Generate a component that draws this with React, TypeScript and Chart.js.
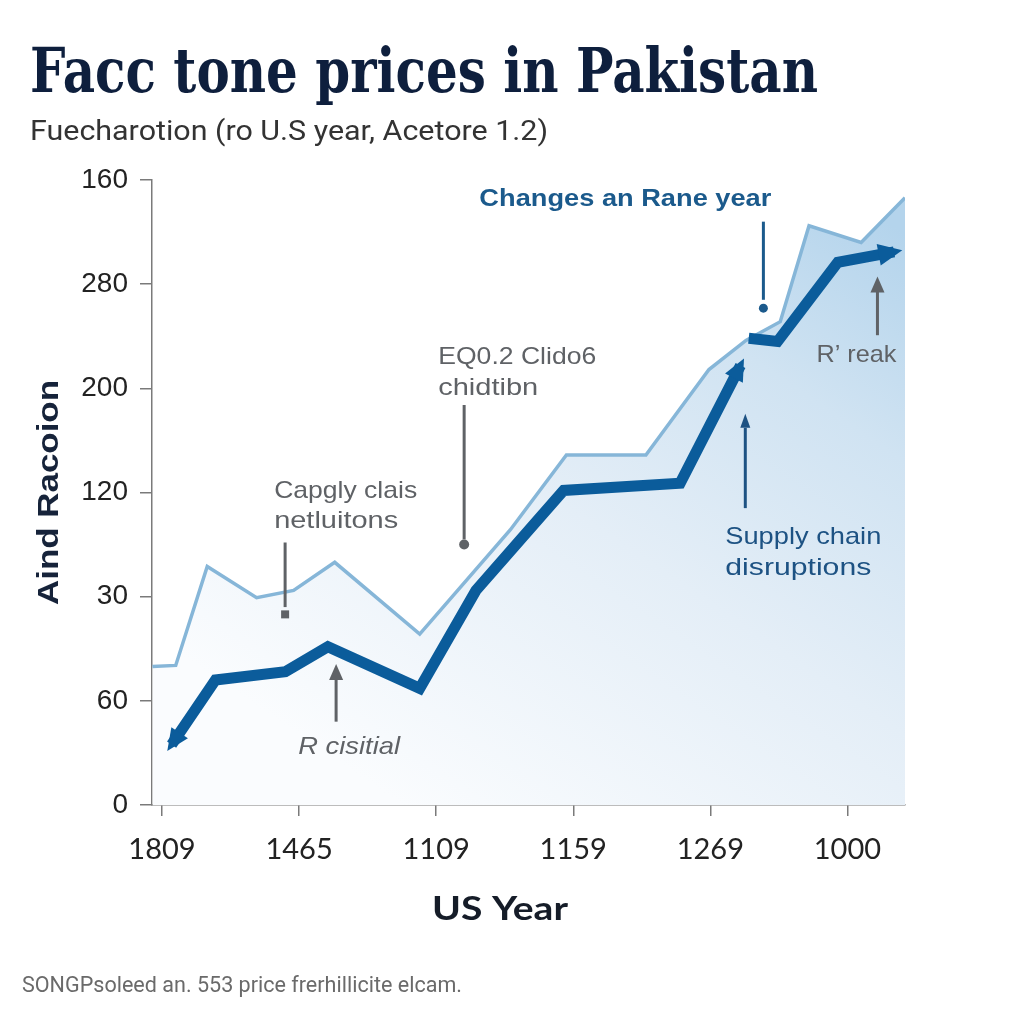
import React, { useEffect, useRef } from "react";
import { Chart, registerables } from "chart.js";

Chart.register(...registerables);

// ---- data ----
const xTickLabels = ["1809", "1465", "1109", "1159", "1269", "1000"];
const yTickLabels = ["0", "60", "30", "120", "200", "280", "160"];

// light (upper) series
const lightX = [-0.07, 0.1, 0.33, 0.69, 0.96, 1.26, 1.88, 2.54, 2.95, 3.53, 3.99, 4.26, 4.51, 4.72, 5.1, 5.42];
const lightY = [1.33, 1.34, 2.29, 1.99, 2.06, 2.33, 1.64, 2.64, 3.36, 3.36, 4.18, 4.46, 4.64, 5.56, 5.4, 5.83];

// dark series, first run
const darkX1 = [0.07, 0.39, 0.9, 1.21, 1.88, 2.29, 2.93, 3.78, 4.22];
const darkY1 = [0.58, 1.2, 1.28, 1.52, 1.12, 2.06, 3.02, 3.09, 4.22];

// dark series, second run
const darkX2 = [4.28, 4.49, 4.93, 5.34];
const darkY2 = [4.48, 4.45, 5.21, 5.31];

// texts
const titleText = "Facc tone prices in Pakistan";
const subtitleText = "Fuecharotion (ro U.S year, Acetore 1.2)";
const footerText = "SONGPsoleed an. 553 price frerhillicite elcam.";
const xTitle = "US Year";
const yTitle = "Aind Racoion";

const DARK = "#0b5c9b";
const LIGHT = "#86b6d8";

function fitText(ctx: CanvasRenderingContext2D, text: string, x: number, y: number, width: number, font: string, color: string, align: "left" | "center" = "left") {
  ctx.save();
  ctx.font = font;
  ctx.fillStyle = color;
  ctx.textBaseline = "alphabetic";
  ctx.textAlign = "left";
  const w = ctx.measureText(text).width;
  const s = width / w;
  const left = align === "center" ? x - width / 2 : x;
  ctx.translate(left, y);
  ctx.scale(s, 1);
  ctx.fillText(text, 0, 0);
  ctx.restore();
}

function arrowHead(ctx: CanvasRenderingContext2D, x: number, y: number, ang: number, len: number, half: number, color: string) {
  ctx.save();
  ctx.translate(x, y);
  ctx.rotate(ang);
  ctx.beginPath();
  ctx.moveTo(len * 0.35, 0);
  ctx.lineTo(-len * 0.65, -half);
  ctx.lineTo(-len * 0.65, half);
  ctx.closePath();
  ctx.fillStyle = color;
  ctx.fill();
  ctx.restore();
}

const decorPlugin = {
  id: "decor",
  afterDatasetsDraw(chart: any) {
    const ctx = chart.ctx as CanvasRenderingContext2D;
    const xs = chart.scales.x;
    const ys = chart.scales.y;
    const px = (v: number) => xs.getPixelForValue(v);
    const py = (v: number) => ys.getPixelForValue(v);

    // arrowheads on dark line
    const m0 = chart.getDatasetMeta(0).data;
    const m1 = chart.getDatasetMeta(1).data;
    const a0 = m0[0], a1 = m0[1];
    arrowHead(ctx, a0.x, a0.y, Math.atan2(a0.y - a1.y, a0.x - a1.x), 22, 10, DARK);
    const b0 = m0[m0.length - 2], b1 = m0[m0.length - 1];
    arrowHead(ctx, b1.x, b1.y, Math.atan2(b1.y - b0.y, b1.x - b0.x), 22, 10, DARK);
    const c0 = m1[m1.length - 2], c1 = m1[m1.length - 1];
    arrowHead(ctx, c1.x, c1.y, Math.atan2(c1.y - c0.y, c1.x - c0.x), 24, 11, DARK);

    const gray = "#5f6266";
    const sans = "'Liberation Sans', Arial, sans-serif";

    // Changes an Rane year
    fitText(ctx, "Changes an Rane year", px(3.38), py(5.75), 292, `bold 24px ${sans}`, "#1b5a8c", "center");
    ctx.save();
    ctx.strokeStyle = "#1b5a8c";
    ctx.lineWidth = 3;
    ctx.beginPath();
    ctx.moveTo(px(4.387), py(5.6));
    ctx.lineTo(px(4.387), py(4.85));
    ctx.stroke();
    ctx.fillStyle = "#1b5a8c";
    ctx.beginPath();
    ctx.arc(px(4.387), py(4.77), 4.5, 0, Math.PI * 2);
    ctx.fill();
    ctx.restore();

    // EQ0.2 Clido6
    fitText(ctx, "EQ0.2 Clido6", px(2.015), py(4.23), 158, `24px ${sans}`, gray);
    fitText(ctx, "chidtibn", px(2.015), py(3.94), 100, `24px ${sans}`, gray);
    ctx.save();
    ctx.strokeStyle = gray;
    ctx.lineWidth = 3;
    ctx.beginPath();
    ctx.moveTo(px(2.204), py(3.84));
    ctx.lineTo(px(2.204), py(2.55));
    ctx.stroke();
    ctx.fillStyle = gray;
    ctx.beginPath();
    ctx.arc(px(2.204), py(2.5), 5, 0, Math.PI * 2);
    ctx.fill();
    ctx.restore();

    // Capgly clais
    fitText(ctx, "Capgly clais", px(0.818), py(2.95), 143, `24px ${sans}`, gray);
    fitText(ctx, "netluitons", px(0.818), py(2.66), 124, `24px ${sans}`, gray);
    ctx.save();
    ctx.strokeStyle = gray;
    ctx.lineWidth = 3;
    ctx.beginPath();
    ctx.moveTo(px(0.898), py(2.52));
    ctx.lineTo(px(0.898), py(1.9));
    ctx.stroke();
    ctx.fillStyle = gray;
    ctx.fillRect(px(0.898) - 4, py(1.83) - 4, 8, 8);
    ctx.restore();

    // R cisitial
    fitText(ctx, "R cisitial", px(0.993), py(0.49), 102, `italic 24px ${sans}`, gray);
    ctx.save();
    ctx.strokeStyle = gray;
    ctx.lineWidth = 3;
    ctx.beginPath();
    ctx.moveTo(px(1.27), py(0.8));
    ctx.lineTo(px(1.27), py(1.22));
    ctx.stroke();
    ctx.restore();
    arrowHead(ctx, px(1.27), py(1.3), -Math.PI / 2, 16, 7, gray);

    // Supply chain disruptions
    fitText(ctx, "Supply chain", px(4.109), py(2.51), 156, `24px ${sans}`, "#1d5283");
    fitText(ctx, "disruptions", px(4.109), py(2.21), 146, `24px ${sans}`, "#1d5283");
    ctx.save();
    ctx.strokeStyle = "#1d5283";
    ctx.lineWidth = 3;
    ctx.beginPath();
    ctx.moveTo(px(4.255), py(2.85));
    ctx.lineTo(px(4.255), py(3.62));
    ctx.stroke();
    ctx.restore();
    arrowHead(ctx, px(4.255), py(3.71), -Math.PI / 2, 14, 5, "#1d5283");

    // R' reak
    fitText(ctx, "R\u2019 reak", px(4.774), py(4.25), 80, `24px ${sans}`, gray);
    ctx.save();
    ctx.strokeStyle = gray;
    ctx.lineWidth = 3;
    ctx.beginPath();
    ctx.moveTo(px(5.219), py(4.51));
    ctx.lineTo(px(5.219), py(4.94));
    ctx.stroke();
    ctx.restore();
    arrowHead(ctx, px(5.219), py(5.02), -Math.PI / 2, 16, 7, gray);
  },
  afterDraw(chart: any) {
    const ctx = chart.ctx as CanvasRenderingContext2D;
    const ca = chart.chartArea;
    fitText(ctx, titleText, 30, 92, 788, "bold 62px 'DejaVu Serif', serif", "#0e1f3d");
    fitText(ctx, subtitleText, 30, 140, 518, "28px Roboto, sans-serif", "#333333");
    fitText(ctx, footerText, 22, 992, 440, "22px Roboto, sans-serif", "#6a6a6a");
    fitText(ctx, xTitle, 500, 920, 136, "bold 32px Lato, sans-serif", "#151c28", "center");
    ctx.save();
    ctx.translate(58, (ca.top + ca.bottom) / 2);
    ctx.rotate(-Math.PI / 2);
    fitText(ctx, yTitle, 0, 0, 225, "bold 30px 'Liberation Sans', Arial, sans-serif", "#16233a", "center");
    ctx.restore();
  },
};

export default function App() {
  const ref = useRef<HTMLCanvasElement | null>(null);
  useEffect(() => {
    if (!ref.current) return;
    const pts = (xs: number[], ys: number[]) => xs.map((x, i) => ({ x, y: ys[i] }));
    const darkStyle = {
      borderColor: DARK,
      borderWidth: 11,
      borderJoinStyle: "miter",
      borderCapStyle: "butt",
      pointRadius: 0,
      fill: false,
      tension: 0,
    };
    const chart = new Chart(ref.current, {
      type: "line",
      data: {
        datasets: [
          { data: pts(darkX1, darkY1), ...darkStyle },
          { data: pts(darkX2, darkY2), ...darkStyle },
          {
            data: pts(lightX, lightY),
            borderColor: LIGHT,
            borderWidth: 3.5,
            pointRadius: 0,
            tension: 0,
            fill: "origin",
            backgroundColor: (c: any) => {
              const ch = c.chart;
              const ca = ch.chartArea;
              if (!ca) return "rgba(225,236,246,1)";
              const g = ch.ctx.createLinearGradient(ca.left + 250, ca.bottom, ca.right - 80, ca.top);
              g.addColorStop(0, "rgba(250,252,254,1)");
              g.addColorStop(0.45, "rgba(228,238,247,1)");
              g.addColorStop(0.75, "rgba(208,227,242,1)");
              g.addColorStop(1, "rgba(180,212,236,1)");
              return g;
            },
          },
        ],
      },
      options: {
        responsive: false,
        animation: false,
        layout: { padding: { left: 0, right: 119, top: 180, bottom: 0 } },
        plugins: {
          legend: { display: false },
          tooltip: { enabled: false },
          title: { display: false },
        },
        scales: {
          x: {
            type: "linear",
            min: -0.073,
            max: 5.42,
            afterBuildTicks: (s: any) => {
              s.ticks = xTickLabels.map((_, i) => ({ value: i }));
            },
            afterFit: (s: any) => {
              s.height = 219;
            },
            ticks: {
              callback: (v: any) => xTickLabels[v] ?? "",
              font: { family: "Lato", size: 29 },
              color: "#222222",
              padding: 16,
              maxRotation: 0,
              autoSkip: false,
            },
            grid: { display: true, drawOnChartArea: false, drawTicks: true, tickLength: 11, color: "#7a7a7a", lineWidth: 1.5 },
            border: { display: true, color: "#7a7a7a", width: 1.5 },
          },
          y: {
            type: "linear",
            min: 0,
            max: 6,
            afterBuildTicks: (s: any) => {
              s.ticks = yTickLabels.map((_, i) => ({ value: i }));
            },
            afterFit: (s: any) => {
              s.width = 152;
            },
            ticks: {
              callback: (v: any) => yTickLabels[v] ?? "",
              font: { family: "'Liberation Sans', Arial, sans-serif", size: 28 },
              color: "#222222",
              padding: 12,
              autoSkip: false,
            },
            grid: { display: true, drawOnChartArea: false, drawTicks: true, tickLength: 12, color: "#7a7a7a", lineWidth: 1.5 },
            border: { display: true, color: "#7a7a7a", width: 1.5 },
          },
        },
      },
      plugins: [decorPlugin],
    } as any);
    return () => chart.destroy();
  }, []);
  return (
    <div style={{ position: "absolute", left: 0, top: 0, width: 1024, height: 1024, background: "#ffffff" }}>
      <canvas ref={ref} width={1024} height={1024} style={{ display: "block" }} />
    </div>
  );
}
